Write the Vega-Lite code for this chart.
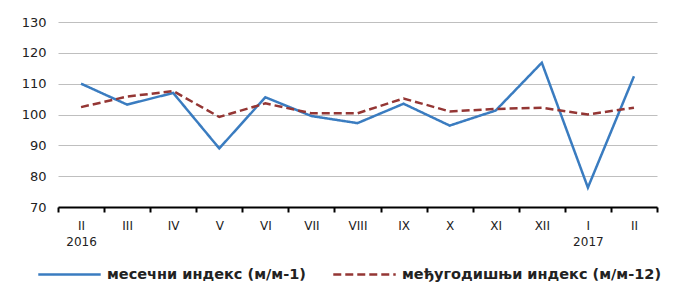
{
  "$schema": "https://vega.github.io/schema/vega-lite/v6.json",
  "autosize": "none",
  "width": 599,
  "height": 185,
  "padding": {"left": 58, "top": 22, "right": 21, "bottom": 76},
  "background": "white",
  "config": {
    "view": {"stroke": null}, "font": "DejaVu Sans",
    "legend": {
      "title": null, "orient": "none", "direction": "horizontal",
      "legendX": -21, "legendY": 220,
      "symbolType": "stroke", "symbolSize": 3900, "symbolStrokeWidth": 2.5,
      "labelFont": "DejaVu Sans", "labelFontSize": 14.5, "labelFontWeight": "bold",
      "labelColor": "#222222", "columnPadding": 22, "labelOffset": 5, "labelLimit": 400
    }
  },
  "data": {"values": [
    {"m": "II|2016", "o": 1, "s": "месечни индекс (м/м-1)", "v": 110.0},
    {"m": "III", "o": 2, "s": "месечни индекс (м/м-1)", "v": 103.2},
    {"m": "IV", "o": 3, "s": "месечни индекс (м/м-1)", "v": 107.0},
    {"m": "V", "o": 4, "s": "месечни индекс (м/м-1)", "v": 89.0},
    {"m": "VI", "o": 5, "s": "месечни индекс (м/м-1)", "v": 105.6},
    {"m": "VII", "o": 6, "s": "месечни индекс (м/м-1)", "v": 99.5},
    {"m": "VIII", "o": 7, "s": "месечни индекс (м/м-1)", "v": 97.2},
    {"m": "IX", "o": 8, "s": "месечни индекс (м/м-1)", "v": 103.5},
    {"m": "X", "o": 9, "s": "месечни индекс (м/м-1)", "v": 96.4},
    {"m": "XI", "o": 10, "s": "месечни индекс (м/м-1)", "v": 101.3},
    {"m": "XII", "o": 11, "s": "месечни индекс (м/м-1)", "v": 116.8},
    {"m": "I|2017", "o": 12, "s": "месечни индекс (м/м-1)", "v": 76.3},
    {"m": "II", "o": 13, "s": "месечни индекс (м/м-1)", "v": 112.4},
    {"m": "II|2016", "o": 1, "s": "међугодишњи индекс (м/м-12)", "v": 102.4},
    {"m": "III", "o": 2, "s": "међугодишњи индекс (м/м-12)", "v": 105.8},
    {"m": "IV", "o": 3, "s": "међугодишњи индекс (м/м-12)", "v": 107.6},
    {"m": "V", "o": 4, "s": "међугодишњи индекс (м/м-12)", "v": 99.2},
    {"m": "VI", "o": 5, "s": "међугодишњи индекс (м/м-12)", "v": 103.6},
    {"m": "VII", "o": 6, "s": "међугодишњи индекс (м/м-12)", "v": 100.4},
    {"m": "VIII", "o": 7, "s": "међугодишњи индекс (м/м-12)", "v": 100.4},
    {"m": "IX", "o": 8, "s": "међугодишњи индекс (м/м-12)", "v": 105.2},
    {"m": "X", "o": 9, "s": "међугодишњи индекс (м/м-12)", "v": 101.0},
    {"m": "XI", "o": 10, "s": "међугодишњи индекс (м/м-12)", "v": 101.8},
    {"m": "XII", "o": 11, "s": "међугодишњи индекс (м/м-12)", "v": 102.2},
    {"m": "I|2017", "o": 12, "s": "међугодишњи индекс (м/м-12)", "v": 100.0},
    {"m": "II", "o": 13, "s": "међугодишњи индекс (м/м-12)", "v": 102.2}
  ]},
  "mark": {"type": "line", "strokeWidth": 2.5},
  "encoding": {
    "x": {
      "field": "m", "type": "nominal", "sort": {"field": "o"}, "bandPosition": 0.5,
      "scale": {"type": "band", "paddingInner": 0, "paddingOuter": 0},
      "axis": {
        "title": null, "labelAngle": 0, "labelExpr": "datum.value ? split(datum.value, '|') : ''",
        "labelFont": "DejaVu Sans", "labelFontSize": 12, "labelColor": "#222222",
        "labelLineHeight": 16, "labelPadding": 8, "labelBaseline": "top",
        "domainColor": "#000000", "domainWidth": 2, "tickColor": "#000000", "tickWidth": 2,
        "tickSize": 5, "tickBand": "extent", "grid": false
      }
    },
    "y": {
      "field": "v", "type": "quantitative",
      "scale": {"domain": [70, 130], "nice": false, "zero": false},
      "axis": {
        "title": null, "values": [70, 80, 90, 100, 110, 120, 130],
        "labelFont": "DejaVu Sans", "labelFontSize": 13, "labelColor": "#222222",
        "labelPadding": 12, "domain": false, "ticks": false,
        "grid": true, "gridColor": "#BFBFBF", "gridWidth": 1
      }
    },
    "color": {
      "field": "s", "type": "nominal",
      "scale": {"domain": ["месечни индекс (м/м-1)", "међугодишњи индекс (м/м-12)"], "range": ["#3A7CC0", "#943634"]}
    },
    "strokeDash": {
      "field": "s", "type": "nominal",
      "scale": {"domain": ["месечни индекс (м/м-1)", "међугодишњи индекс (м/м-12)"], "range": [[1, 0], [8, 4]]}
    }
  }
}
